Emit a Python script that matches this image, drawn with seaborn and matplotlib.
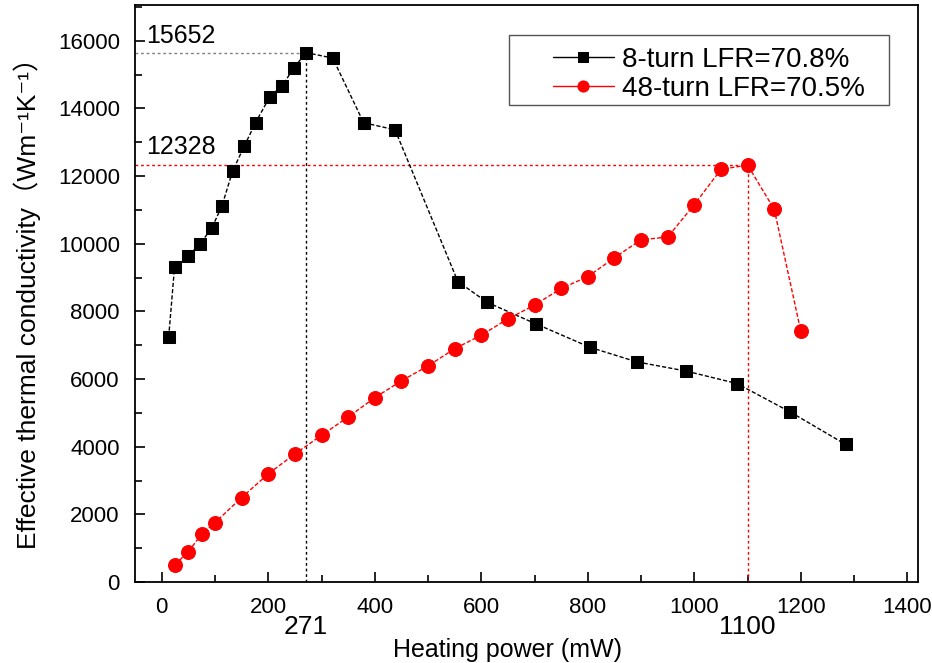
import matplotlib
matplotlib.use('Agg')
import matplotlib.pyplot as plt
from matplotlib.ticker import MultipleLocator
from matplotlib.patches import Rectangle
import seaborn as sns

# 8-turn LFR=70.8%
power_8 = [13, 24, 49, 72, 94, 113, 133, 155, 176, 203, 226, 248, 271,
           321, 379, 438, 556, 611, 703, 805, 892, 984, 1080, 1180, 1284]
cond_8 = [7250, 9310, 9630, 10000, 10470, 11120, 12150, 12890, 13580, 14350,
          14670, 15200, 15652, 15490, 13580, 13370, 8885, 8270, 7630, 6935,
          6510, 6240, 5870, 5030, 4070]

# 48-turn LFR=70.5%
power_48 = [25, 50, 75, 100, 150, 200, 250, 300, 350, 400, 450, 500, 550,
            600, 650, 700, 750, 800, 850, 900, 950, 1000, 1050, 1100, 1150, 1200]
cond_48 = [520, 900, 1420, 1760, 2500, 3200, 3790, 4340, 4880, 5450, 5950,
           6390, 6900, 7300, 7780, 8190, 8680, 9030, 9590, 10120, 10200,
           11160, 12200, 12328, 11020, 7410]

peak_8 = (271, 15652)
peak_48 = (1100, 12328)

sns.set_style("ticks")
plt.rcParams['font.family'] = ['Liberation Sans', 'DejaVu Sans', 'Noto Sans CJK SC']
for k in ['text.color', 'axes.labelcolor', 'xtick.color', 'ytick.color', 'axes.edgecolor']:
    plt.rcParams[k] = 'black'

fig = plt.figure(figsize=(9.32, 6.63), dpi=100)
ax = fig.add_axes([0.145, 0.122, 0.84, 0.870])

# peak guide lines
ax.plot([-50, peak_8[0]], [peak_8[1], peak_8[1]], ls=(0, (2, 2)), color='gray', lw=1)
ax.plot([peak_8[0], peak_8[0]], [0, peak_8[1]], ls=(0, (2, 2)), color='black', lw=1)
ax.plot([-50, peak_48[0]], [peak_48[1], peak_48[1]], ls=(0, (2, 2)), color='red', lw=1)
ax.plot([peak_48[0], peak_48[0]], [0, peak_48[1]], ls=(0, (2, 2)), color='red', lw=1)

sns.lineplot(x=power_8, y=cond_8, ax=ax, sort=False, color='black',
             marker='s', markersize=9, markeredgecolor='black',
             lw=1, ls=(0, (3, 1.5)), label='8-turn LFR=70.8%')
sns.lineplot(x=power_48, y=cond_48, ax=ax, sort=False, color='red',
             marker='o', markersize=10, markeredgecolor='red',
             lw=1, ls=(0, (3, 1.5)), label='48-turn LFR=70.5%')

ax.set_xlim(-50, 1420)
ax.set_ylim(0, 17050)
ax.xaxis.set_major_locator(MultipleLocator(200))
ax.xaxis.set_minor_locator(MultipleLocator(100))
ax.yaxis.set_major_locator(MultipleLocator(2000))
ax.yaxis.set_minor_locator(MultipleLocator(1000))
ax.tick_params(which='both', direction='in', top=False, right=False,
               labelsize=16, width=1.2, pad=11)
ax.tick_params(which='major', length=7.5)
ax.tick_params(which='minor', length=5)
for s in ax.spines.values():
    s.set_linewidth(1.3)

ax.set_xlabel('Heating power (mW)', fontsize=18)
ax.xaxis.set_label_coords(0.475, -0.097)
ax.set_ylabel('Effective thermal conductivity（Wm⁻¹K⁻¹）', fontsize=19)
ax.yaxis.set_label_coords(-0.12, 0.494)

ax.text(-30, peak_8[1] + 150, '15652', fontsize=18, ha='left', va='bottom')
ax.text(-30, peak_48[1] + 180, '12328', fontsize=18, ha='left', va='bottom')
ax.text(peak_8[0], -0.078, '271', transform=ax.get_xaxis_transform(),
        fontsize=19, ha='center', va='center')
ax.text(peak_48[0], -0.078, '1100', transform=ax.get_xaxis_transform(),
        fontsize=19, ha='center', va='center')

# legend box drawn separately, entries centred inside it
ax.add_patch(Rectangle((0.478, 0.827), 0.485, 0.121, transform=ax.transAxes,
                       fill=False, edgecolor='#555555', lw=1, zorder=5))
leg = ax.legend(loc='center', bbox_to_anchor=(0.733, 0.880), fontsize=20,
                frameon=False, handlelength=2.2, handletextpad=0.3,
                borderpad=0, labelspacing=0.1, markerscale=0.8)
for h in leg.get_lines():
    h.set_linestyle('-')
    h.set_linewidth(1)

fig.savefig('out.png', dpi=100)
